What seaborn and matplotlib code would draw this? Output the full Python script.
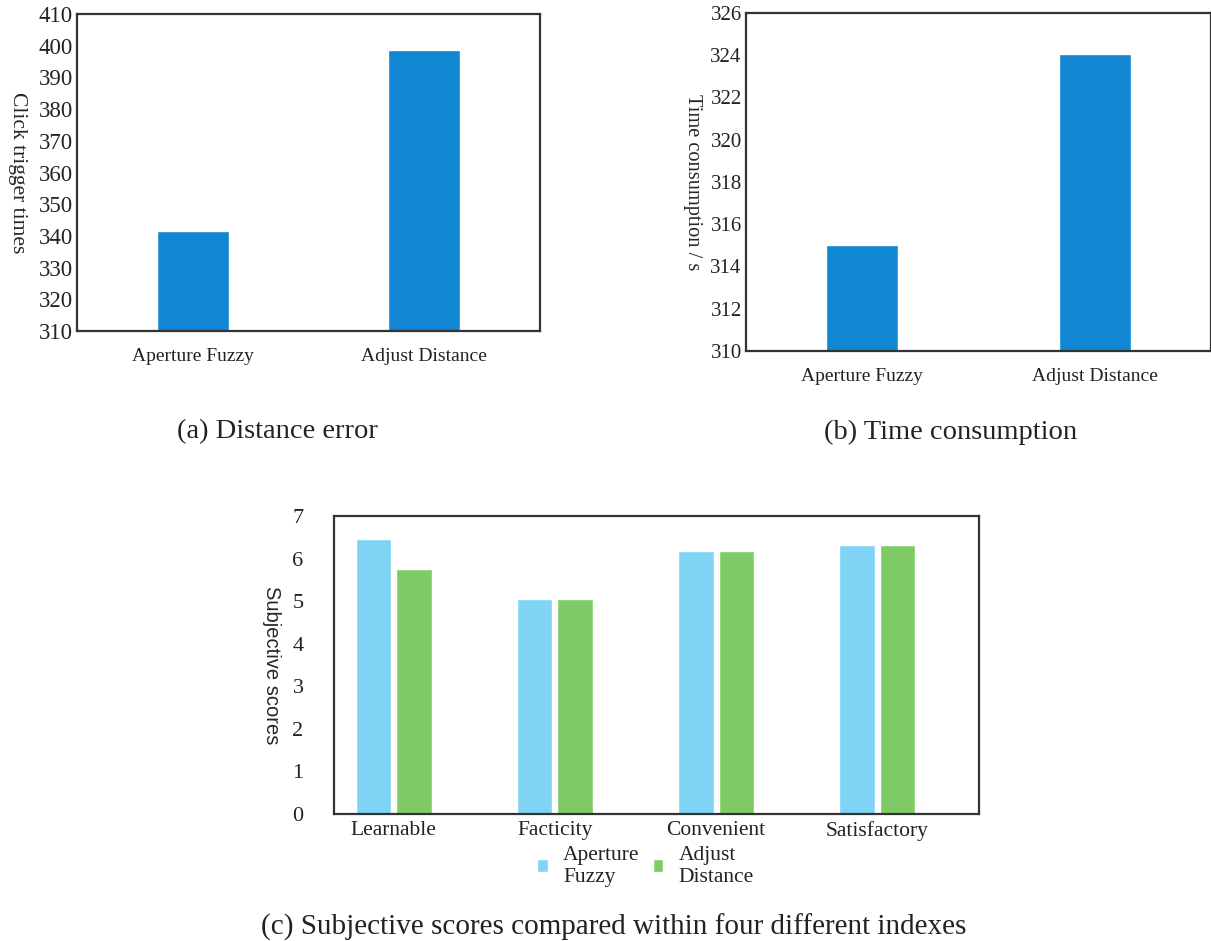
import numpy as np
import pandas as pd
import matplotlib
matplotlib.use('Agg')
import matplotlib.pyplot as plt
import seaborn as sns

# podaci
methods = ['Aperture Fuzzy', 'Adjust Distance']
click_times = [341.5, 398.5]
time_used = [315.0, 324.05]

indexes = ['Learnable', 'Facticity', 'Convenient', 'Satisfactory']
score_fuzzy = [6.46, 5.04, 6.17, 6.31]
score_adjust = [5.75, 5.04, 6.17, 6.31]
legend_names = ['Aperture\nFuzzy', 'Adjust\nDistance']

sns.set_theme(style='white')
plt.rcParams['font.family'] = ['Liberation Serif', 'DejaVu Serif']
plt.rcParams['axes.edgecolor'] = '#333333'
plt.rcParams['axes.linewidth'] = 1.6
plt.rcParams['text.color'] = '#222222'
plt.rcParams['xtick.color'] = '#222222'
plt.rcParams['ytick.color'] = '#222222'

blue = '#1186d3'
light_blue = '#7fd4f5'
green = '#7ecb65'

fig = plt.figure(figsize=(12.11, 9.41), dpi=100)

def style_ax(ax, ysize, xsize):
    ax.tick_params(axis='y', direction='in', length=6, width=1.6, pad=3, labelsize=ysize)
    ax.tick_params(axis='x', length=0, pad=12, labelsize=xsize)
    for s in ax.spines.values():
        s.set_visible(True)

# (a)
ax1 = fig.add_axes([0.0636, 0.6482, 0.3823, 0.3369])
sns.barplot(x=methods, y=click_times, color=blue, width=0.31, saturation=1, ax=ax1)
ax1.set_ylim(310, 410)
ax1.set_yticks(np.arange(310, 411, 10))
ax1.set_xlim(-0.5, 1.5)
ax1.set_ylabel('Click trigger times', rotation=270, fontsize=15.5, labelpad=22)
style_ax(ax1, 16.5, 14)

# (b)
ax2 = fig.add_axes([0.616, 0.627, 0.384, 0.3592])
sns.barplot(x=methods, y=time_used, color=blue, width=0.31, saturation=1, ax=ax2)
ax2.set_ylim(310, 326)
ax2.set_yticks(np.arange(310, 327, 2))
ax2.set_xlim(-0.5, 1.5)
ax2.set_ylabel('Time consumption / s', rotation=270, fontsize=14.7, labelpad=20)
style_ax(ax2, 15, 14)

# (c)
df = pd.DataFrame({
    'index': indexes * 2,
    'score': score_fuzzy + score_adjust,
    'method': [legend_names[0]] * 4 + [legend_names[1]] * 4,
})
ax3 = fig.add_axes([0.2758, 0.135, 0.5326, 0.3167])
sns.barplot(data=df, x='index', y='score', hue='method', palette=[light_blue, green],
            width=0.5, gap=0.12, saturation=1, ax=ax3)
ax3.set_ylim(0, 7)
ax3.set_yticks(range(0, 8))
ax3.set_xlim(-0.37, 3.63)
ax3.set_xlabel('')
ax3.set_ylabel('Subjective scores', rotation=270, fontsize=14.5, labelpad=22,
               family=['Liberation Sans', 'DejaVu Sans'])
style_ax(ax3, 16, 15.5)
ax3.tick_params(axis='y', pad=22)
ax3.tick_params(axis='x', pad=5)
sns.move_legend(ax3, loc='center', bbox_to_anchor=(0.483, -0.175), ncol=2, frameon=False,
                title=None, fontsize=15.5, handlelength=0.5, handleheight=0.5,
                handletextpad=0.7, columnspacing=0.6, labelspacing=0.2)

# naslovi
fig.text(277 / 1211, 1 - 432 / 941, '(a) Distance error', ha='center', va='center', fontsize=20.5)
fig.text(951 / 1211, 1 - 432 / 941, '(b) Time consumption', ha='center', va='center', fontsize=20.5)
fig.text(614 / 1211, 1 - 927 / 941, '(c) Subjective scores compared within four different indexes',
         ha='center', va='center', fontsize=21)

fig.savefig('out.png', dpi=100)
